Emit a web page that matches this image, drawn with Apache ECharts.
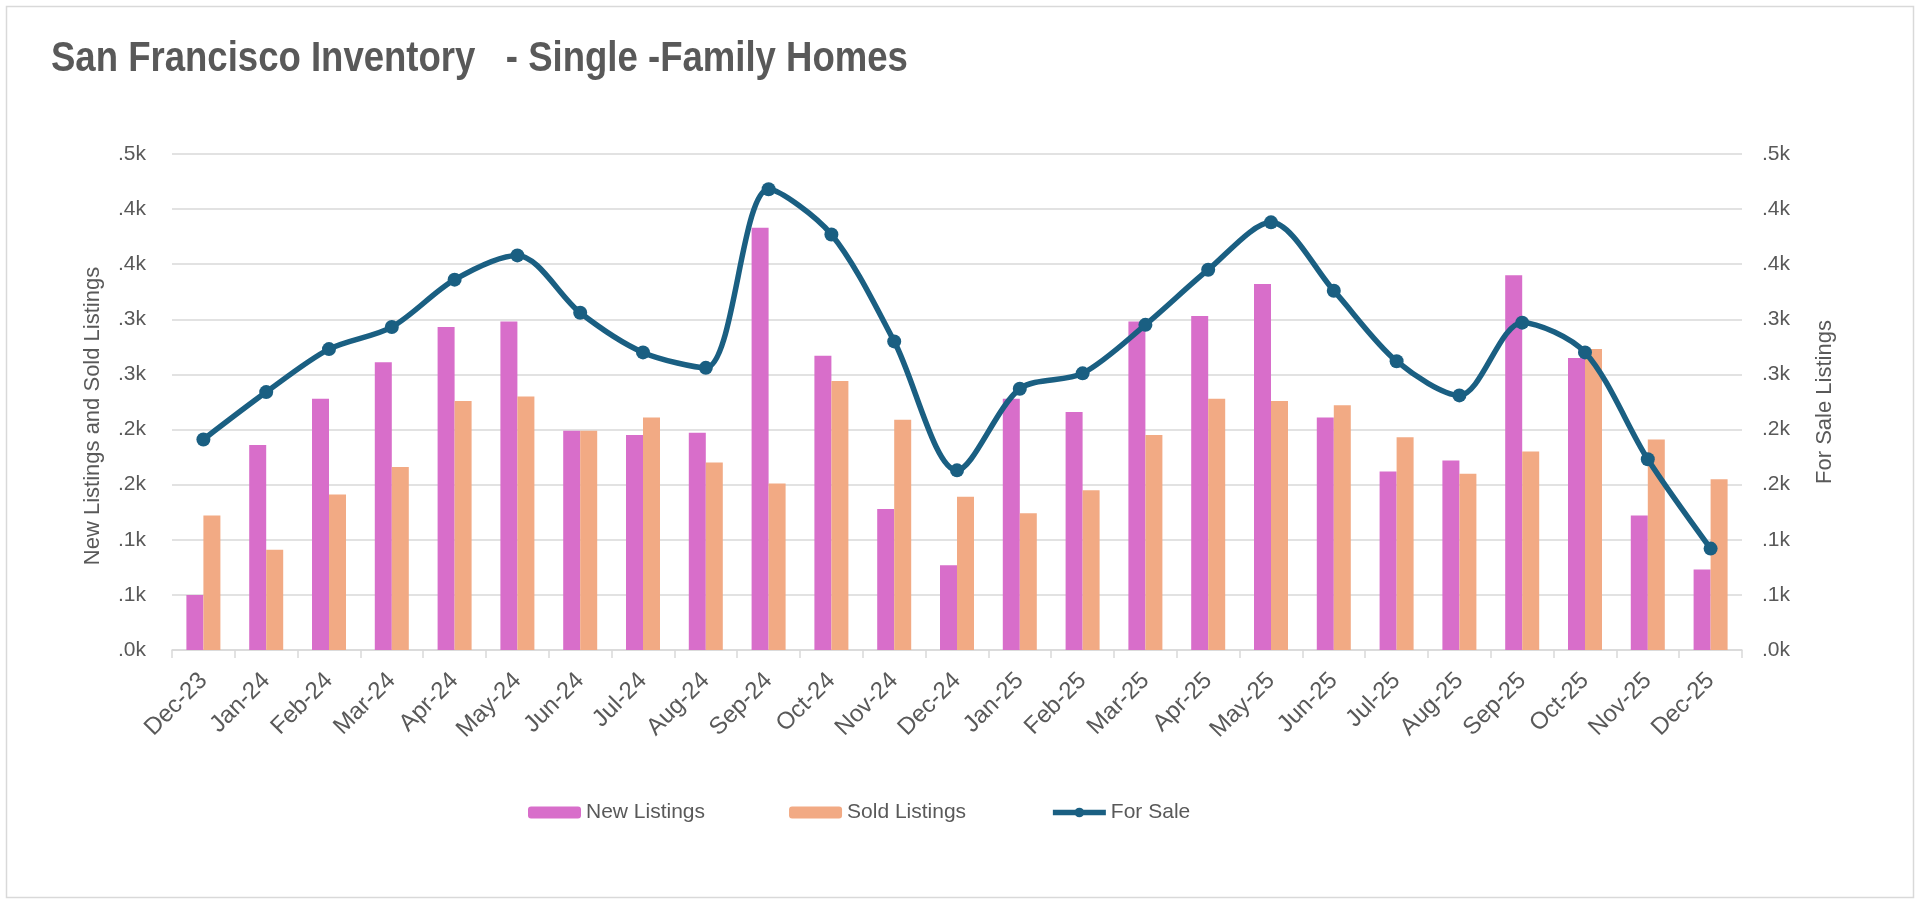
<!DOCTYPE html>
<html>
<head>
<meta charset="utf-8">
<script src="https://cdn.jsdelivr.net/npm/echarts@6/dist/echarts.min.js"></script>
<style>
html,body{margin:0;padding:0;background:#fff;}
#chart{width:1920px;height:907px;}
</style>
</head>
<body>
<div id="chart"></div>
<script>
const categories = ['Dec-23','Jan-24','Feb-24','Mar-24','Apr-24','May-24','Jun-24','Jul-24','Aug-24','Sep-24','Oct-24','Nov-24','Dec-24','Jan-25','Feb-25','Mar-25','Apr-25','May-25','Jun-25','Jul-25','Aug-25','Sep-25','Oct-25','Nov-25','Dec-25'];
const newListings = [50,186,228,261,293,298,199,195,197,383,267,128,77,228,216,298,303,332,211,162,172,340,265,122,73];
const soldListings = [122,91,141,166,226,230,199,211,170,151,244,209,139,124,145,195,228,226,222,193,160,180,273,191,155];
const forSale = [191,234,273,293,336,358,306,270,256,418,377,280,163,237,251,295,345,388,326,262,231,297,270,173,92];
const tickLabels = ['.0k','.1k','.1k','.2k','.2k','.3k','.3k','.4k','.4k','.5k'];
const titleText = 'San Francisco Inventory   - Single -Family Homes';

const FONT = '"Liberation Sans Narrow", "Arial Narrow", "Liberation Sans", Arial, sans-serif';
const GREY = '#595959';
function fmt(v){ const i = Math.round(v/50); return tickLabels[i] !== undefined ? tickLabels[i] : ''; }

const chart = echarts.init(document.getElementById('chart'));
chart.setOption({
  backgroundColor:'#fff',
  animation:false,
  textStyle:{fontFamily:FONT},
  graphic:[
    {type:'rect',shape:{x:6.5,y:6.5,width:1907,height:891},style:{fill:'none',stroke:'#d9d9d9',lineWidth:1.5}},
    {type:'text',left:51,top:38,scaleX:0.87,scaleY:1,
      style:{text:titleText,fontFamily:FONT,fontWeight:'bold',fontSize:42,fill:GREY}}
  ],
  legend:{left:523,top:797,itemGap:84,itemWidth:53,itemHeight:12,
    textStyle:{fontFamily:FONT,fontSize:21,color:GREY,padding:[0,0,0,0]},
    data:['New Listings','Sold Listings',
      {name:'For Sale',lineStyle:{width:5.5,color:'#1A5F82'},itemStyle:{color:'#1A5F82'}}]},
  grid:{left:172,right:178,top:154,bottom:257},
  xAxis:{type:'category',data:categories,
    axisLine:{lineStyle:{color:'#d9d9d9',width:1.5}},
    axisTick:{show:true,length:8,lineStyle:{color:'#d9d9d9',width:1.5}},
    axisLabel:{rotate:45,fontSize:24,color:GREY,margin:27,fontFamily:FONT}},
  yAxis:[
    {type:'value',min:0,max:450,interval:50,name:'New Listings and Sold Listings',nameLocation:'middle',nameGap:68,
      nameTextStyle:{fontSize:22,color:GREY,fontFamily:FONT,padding:[0,0,0,-28]},
      axisLabel:{formatter:fmt,fontSize:21,color:GREY,margin:26,fontFamily:FONT},
      axisLine:{show:false},axisTick:{show:false},
      splitLine:{lineStyle:{color:'#d9d9d9',width:1.5}}},
    {type:'value',min:0,max:450,interval:50,name:'For Sale Listings',nameLocation:'middle',nameGap:72,
      nameTextStyle:{fontSize:22,color:GREY,fontFamily:FONT},
      axisLabel:{formatter:fmt,fontSize:21,color:GREY,margin:20,fontFamily:FONT},
      axisLine:{show:false},axisTick:{show:false},splitLine:{show:false}}
  ],
  series:[
    {name:'New Listings',type:'bar',data:newListings,barWidth:17,barGap:'0%',
      itemStyle:{color:'#D86ECA'}},
    {name:'Sold Listings',type:'bar',data:soldListings,barWidth:17,barGap:'0%',
      itemStyle:{color:'#F2AA84'}},
    {name:'For Sale',type:'line',yAxisIndex:1,data:forSale,smooth:0.3,
      symbol:'circle',symbolSize:14,
      lineStyle:{color:'#1A5F82',width:5.5},itemStyle:{color:'#1A5F82'}}
  ]
});
</script>
</body>
</html>
